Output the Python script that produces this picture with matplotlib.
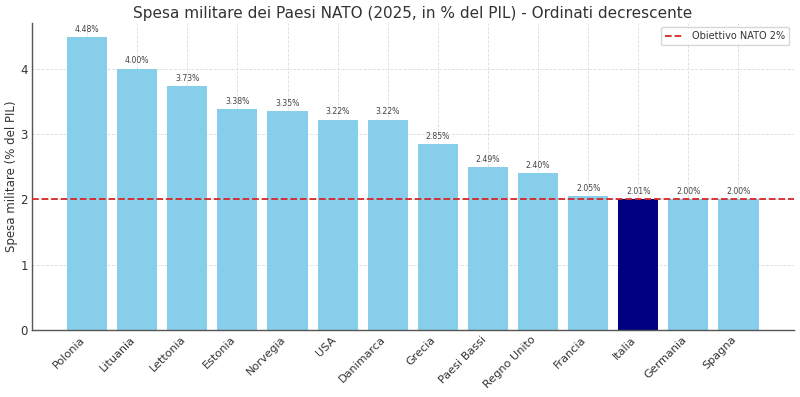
import matplotlib
matplotlib.use("Agg")
import matplotlib.pyplot as plt

countries = ["Polonia", "Lituania", "Lettonia", "Estonia", "Norvegia", "USA", "Danimarca",
             "Grecia", "Paesi Bassi", "Regno Unito", "Francia", "Italia", "Germania", "Spagna"]
values = [4.48, 4.00, 3.73, 3.38, 3.35, 3.22, 3.22, 2.85, 2.49, 2.40, 2.05, 2.01, 2.00, 2.00]
highlight = "Italia"
target = 2.0

plt.rcParams['font.family'] = ['DejaVu Sans']
fig = plt.figure(figsize=(8, 3.97), dpi=100)
ax = fig.add_axes([0.04, 0.168, 0.952, 0.775])

colors = ["navy" if c == highlight else "skyblue" for c in countries]
x = list(range(len(countries)))
bars = ax.bar(x, values, width=0.8, color=colors, zorder=2)
ax.axhline(target, color="#d62728", linestyle="--", linewidth=1.3, label="Obiettivo NATO 2%", zorder=3)

for xi, v in zip(x, values):
    ax.text(xi, v + 0.05, f"{v:.2f}%", ha="center", va="bottom", fontsize=5.6, color="#444444")

ax.set_xticks(x)
ax.set_xticklabels(countries, rotation=45, ha="right", fontsize=8.1, color="#333333")
ax.set_xlim(-1.1, 14.1)
ax.set_ylim(0, 4.704)
ax.set_yticks([0, 1, 2, 3, 4])
ax.tick_params(axis="y", labelsize=8.5, colors="#333333", length=0, pad=3)
ax.tick_params(axis="x", length=3, direction="in", color="#333333", pad=3)
ax.set_ylabel("Spesa militare (% del PIL)", fontsize=8.5, color="#333333", labelpad=2)
ax.set_title("Spesa militare dei Paesi NATO (2025, in % del PIL) - Ordinati decrescente",
             fontsize=11, color="#333333", pad=3)
ax.grid(True, linestyle="--", linewidth=0.6, color="#dddddd", zorder=0)
ax.set_axisbelow(True)
for s in ["top", "right"]:
    ax.spines[s].set_visible(False)
for s in ["left", "bottom"]:
    ax.spines[s].set_color("#555555")
    ax.spines[s].set_linewidth(1.0)

leg = ax.legend(loc="upper right", fontsize=7, frameon=True)
for t in leg.get_texts():
    t.set_color("#333333")

fig.savefig("out.png", dpi=100)
